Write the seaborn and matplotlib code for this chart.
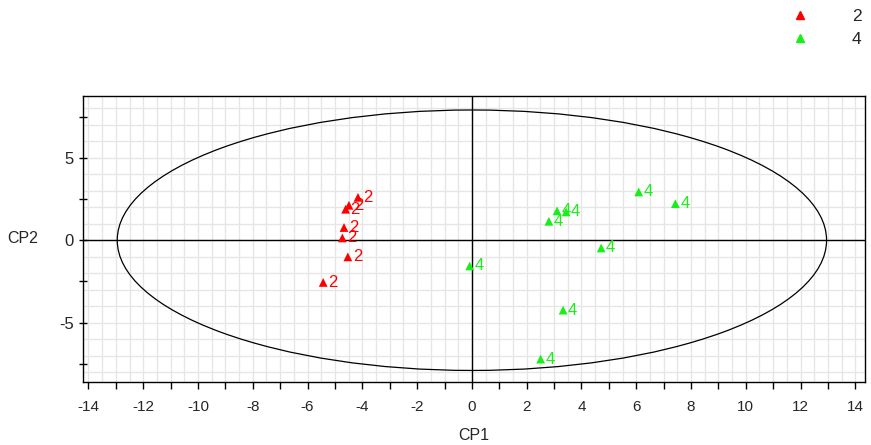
import numpy as np
import pandas as pd
import matplotlib.pyplot as plt
import seaborn as sns
from matplotlib.patches import Ellipse
from matplotlib.ticker import MultipleLocator

# Scores (CP1, CP2) per group
cp1_g2 = [-4.16, -4.49, -4.61, -4.67, -4.73, -4.53, -5.43]
cp2_g2 = [2.60, 2.12, 1.88, 0.77, 0.14, -1.01, -2.56]
cp1_g4 = [6.09, 7.43, 3.11, 3.44, 2.81, 4.72, -0.08, 3.33, 2.51]
cp2_g4 = [2.93, 2.22, 1.78, 1.72, 1.15, -0.47, -1.56, -4.24, -7.21]

# Hotelling ellipse semi-axes
ell_a = 12.95
ell_b = 7.9

df = pd.DataFrame({
    "CP1": cp1_g2 + cp1_g4,
    "CP2": cp2_g2 + cp2_g4,
    "group": ["2"] * len(cp1_g2) + ["4"] * len(cp1_g4),
})
palette = {"2": "#ff0000", "4": "#1aee1a"}

sns.set_theme(style="white")
plt.rcParams["font.family"] = ["Liberation Sans", "DejaVu Sans"]
plt.rcParams["axes.unicode_minus"] = False

fig = plt.figure(figsize=(8.71, 4.45), dpi=100)
ax = fig.add_axes([0.0953, 0.1416, 0.8977, 0.6427])

# grid
for gx in np.arange(-14, 14.01, 0.5):
    ax.axvline(gx, color="#e6e6e6", lw=1, zorder=0)
for gy in np.arange(-8, 8.01, 1):
    ax.axhline(gy, color="#e6e6e6", lw=1, zorder=0)
ax.axhline(0, color="black", lw=1, zorder=1)
ax.axvline(0, color="black", lw=1, zorder=1)

ax.add_patch(Ellipse((0, 0), 2 * ell_a, 2 * ell_b, fill=False, ec="black", lw=0.9, zorder=2))

sns.scatterplot(data=df, x="CP1", y="CP2", hue="group", palette=palette,
                marker="^", s=40, linewidth=0, ax=ax, zorder=3, legend=False)

for x, y, g in zip(df["CP1"], df["CP2"], df["group"]):
    ax.annotate(g, (x, y), xytext=(3.5, 0), textcoords="offset points",
                va="center", ha="left", color=palette[g], fontsize=12, zorder=4)

ax.set_xlim(-14.2, 14.35)
ax.set_ylim(-8.6, 8.75)
ax.xaxis.set_major_locator(MultipleLocator(2))
ax.xaxis.set_minor_locator(MultipleLocator(1))
ax.yaxis.set_major_locator(MultipleLocator(5))
ax.yaxis.set_minor_locator(MultipleLocator(2.5))
ax.tick_params(axis="x", which="both", direction="out", length=5, width=1, color="black",
               labelsize=11, pad=8, bottom=True)
ax.tick_params(axis="y", which="both", direction="inout", length=6, width=1, color="black",
               labelsize=12, left=True)
for sp in ax.spines.values():
    sp.set_color("black")
    sp.set_linewidth(1)

ax.set_xlabel("CP1", fontsize=11.5, labelpad=10)
ax.set_ylabel("CP2", fontsize=11.5, rotation=0, labelpad=26, va="center")

handles = [plt.Line2D([], [], marker="^", ls="", color=palette[g], markersize=6) for g in ["2", "4"]]
fig.legend(handles, ["2", "4"], loc="upper right", bbox_to_anchor=(1.007, 1.015),
           frameon=False, handletextpad=2.0, labelspacing=0.45, fontsize=12.5)

plt.savefig("out.png", dpi=100)
